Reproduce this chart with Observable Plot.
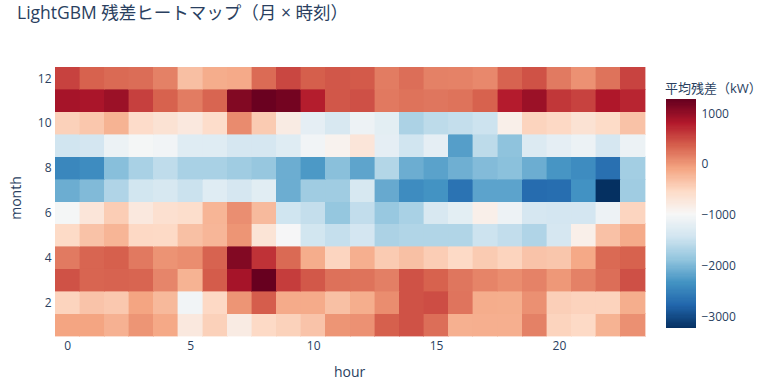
<!DOCTYPE html>
<html>
<head>
<meta charset="utf-8">
<script src="https://cdn.jsdelivr.net/npm/d3@7"></script>
<script src="https://cdn.jsdelivr.net/npm/@observablehq/plot@0.6"></script>
<style>
  html, body { margin: 0; padding: 0; background: #fff; }
  #wrap { position: relative; width: 764px; height: 387px; font-family: "Open Sans", "Noto Sans CJK JP", sans-serif; color: #2a3f5f; }
  #wrap svg { position: absolute; left: 0; top: 0; }
  .t { position: absolute; white-space: nowrap; }
</style>
</head>
<body>
<div id="wrap">
  <div class="t" id="title" style="left:17px; top:-1px; font-size:17.5px;">LightGBM 残差ヒートマップ（月 × 時刻）</div>
  <div class="t" style="left:665px; top:78px; font-size:13px;">平均残差（kW）</div>
  <div class="t" style="left:334px; top:362px; font-size:14px;">hour</div>
  <div class="t" style="left:15px; top:198px; font-size:14px; transform: translate(-50%,-50%) rotate(-90deg);">month</div>
</div>
<script>
const hours = d3.range(0, 24);
const months = d3.range(1, 13);
const xTicks = [0, 5, 10, 15, 20];
const yTicks = [2, 4, 6, 8, 10, 12];
const cbTicks = [1000, 0, -1000, -2000, -3000];

// residuals per month, hours 0..23
const m1  = [-90,-90,-190,20,-120,-750,-450,-800,-530,-460,-340,20, 40,360,450,270,-180,-170,-170,150,-480,-530,-200,50];
const m2  = [-480,-340,-380,-90,-250,-1050,-520,20,380,-140,-140,-310, -160,70,450,480,230,-150,-160,50,-440,-470,-470,-160];
const m3  = [450,330,340,330,120,-200,390,880,1260,580,410,250, 240,160,450,350,220,130,70,140,0,150,270,460];
const m4  = [190,330,360,200,30,70,340,1100,650,300,-150,-490, -170,-400,-310,-420,-530,-400,-480,-340,-360,-120,300,350];
const m5  = [-540,-330,-220,-520,-530,-310,-230,20,-680,-1000,-1420,-1520, -1400,-1700,-1660,-1660,-1660,-1460,-1540,-1670,-1380,-850,-320,-140];
const m6  = [-1020,-700,-420,-750,-620,-580,-220,60,-260,-1440,-1530,-1860, -1540,-1840,-1720,-1350,-1220,-850,-1100,-1380,-1400,-1400,-1100,-490];
const m7  = [-2100,-1980,-1670,-1420,-1360,-1480,-1270,-1380,-1240,-2100,-1780,-1780, -1360,-2130,-2400,-2330,-2650,-2190,-2190,-2720,-2700,-2340,-3230,-1780];
const m8  = [-2450,-2400,-1940,-1720,-1560,-1720,-1720,-1780,-1850,-2100,-2280,-1930, -2180,-1650,-2100,-2200,-2080,-1970,-1920,-2100,-2310,-2400,-2680,-1760];
const m9  = [-1430,-1400,-1120,-1020,-1050,-1270,-1270,-1380,-1380,-1270,-1050,-900, -700,-1200,-1430,-1200,-2230,-1580,-1900,-1300,-1200,-1120,-1380,-1120];
const m10 = [-450,-370,-200,-560,-650,-750,-570,80,-400,-800,-1200,-1350, -1100,-1220,-1700,-1580,-1530,-1460,-850,-480,-520,-650,-550,-330];
const m11 = [880,860,950,560,350,180,330,1100,1240,1180,780,420, 460,200,240,220,240,350,790,950,620,550,830,730];
const m12 = [550,350,300,280,150,-300,-150,-130,290,520,370,420, 400,180,270,150,140,100,340,450,190,40,240,540];

const rows = [m1, m2, m3, m4, m5, m6, m7, m8, m9, m10, m11, m12];
const data = [];
months.forEach((m, i) => hours.forEach((h, j) => data.push({month: m, hour: h, value: rows[i][j]})));

const [vmin, vmax] = d3.extent(data, d => d.value);
const rdbu = ["#053061","#2166ac","#4393c3","#92c5de","#d1e5f0","#f7f7f7","#fddbc7","#f4a582","#d6604d","#b2182b","#67001f"];
const colorScale = {
  type: "linear",
  domain: rdbu.map((_, i) => vmin + (vmax - vmin) * i / (rdbu.length - 1)),
  range: rdbu,
  interpolate: "rgb"
};

const font = {fontFamily: "'Open Sans', 'Noto Sans CJK JP', sans-serif", fontSize: "12px", color: "#2a3f5f", background: "transparent", overflow: "visible"};
const minusFmt = d => String(d).replace("-", "\u2212");

const main = Plot.plot({
  width: 764, height: 387,
  marginLeft: 55, marginRight: 119, marginTop: 67, marginBottom: 51,
  style: font,
  x: {domain: [-0.5, 23.5], ticks: xTicks, tickSize: 0, tickPadding: 5, label: null},
  y: {domain: [0.5, 12.5], ticks: yTicks, tickSize: 0, tickPadding: 4, label: null},
  color: colorScale,
  marks: [
    Plot.rect(data, {
      x1: d => d.hour - 0.5, x2: d => d.hour + 0.5,
      y1: d => d.month - 0.5, y2: d => d.month + 0.5,
      fill: "value", stroke: "value", strokeWidth: 0.4,
      shapeRendering: "crispEdges"
    })
  ]
});

// vertical colorbar
const steps = d3.range(0, 200).map(i => ({
  lo: vmin + (vmax - vmin) * i / 200,
  hi: vmin + (vmax - vmin) * (i + 1) / 200
}));
const bar = Plot.plot({
  width: 764, height: 387,
  marginLeft: 666, marginRight: 68, marginTop: 100, marginBottom: 59,
  style: font,
  x: {domain: [0, 1], axis: null},
  y: {domain: [vmin, vmax], ticks: cbTicks, tickSize: 0, tickPadding: 5, label: null, axis: "right", tickFormat: minusFmt},
  color: colorScale,
  marks: [
    Plot.rect(steps, {x1: 0, x2: 1, y1: "lo", y2: d => d.hi + (vmax - vmin) / 400, fill: d => (d.lo + d.hi) / 2, shapeRendering: "crispEdges"})
  ]
});

const wrap = document.getElementById("wrap");
wrap.insertBefore(bar, wrap.firstChild);
wrap.insertBefore(main, wrap.firstChild);
</script>
</body>
</html>
